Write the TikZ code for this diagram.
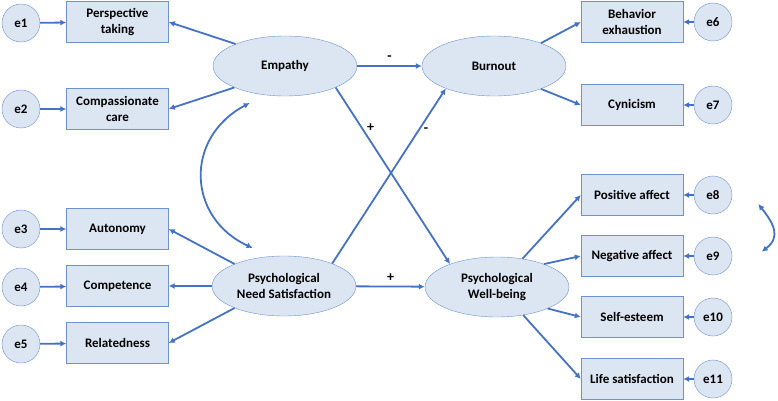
\documentclass[tikz,border=0pt]{standalone}
\usepackage{fontspec}
\setmainfont{Carlito}
\usetikzlibrary{shapes.geometric,arrows.meta}
\definecolor{semblue}{RGB}{68,114,196}
\definecolor{semline}{RGB}{110,145,208}
\definecolor{semfill}{RGB}{220,230,243}
\tikzset{
  obsbox/.style={draw=semline,fill=semfill,minimum width=102pt,minimum height=41pt,inner sep=1pt,align=center,font=\bfseries},
  latent/.style={ellipse,draw=semline,fill=semfill,minimum width=144pt,minimum height=60pt,inner sep=0pt,align=center,font=\bfseries},
  errc/.style={circle,draw=semline,fill=semfill,minimum size=38pt,inner sep=0pt,font=\bfseries},
  semarr/.style={draw=semblue,line width=1.8pt,-{Latex[length=6pt,width=6pt]}},
  semcov/.style={draw=semblue,line width=1.8pt,{Latex[length=6pt,width=6pt]}-{Latex[length=6pt,width=6pt]}},
  sign/.style={text=black,font=\fontsize{14}{16}\selectfont\bfseries}
}
\begin{document}
\begin{tikzpicture}[x=1pt,y=-1pt]
\useasboundingbox (0,0) rectangle (778,401);
\fontsize{13}{16}\selectfont

\node[errc] (e1) at (21,23) {e1};
\node[errc] (e2) at (21,109) {e2};
\node[errc] (e3) at (21,229) {e3};
\node[errc] (e4) at (21,287) {e4};
\node[errc] (e5) at (21,344) {e5};

\node[obsbox] (pt) at (117.5,22) {Perspective\\taking};
\node[obsbox] (cc) at (117.5,109) {Compassionate\\care};
\node[obsbox] (aut) at (117.5,229) {Autonomy};
\node[obsbox] (com) at (117.5,286) {Competence};
\node[obsbox] (rel) at (117.5,343) {Relatedness};

\node[latent] (emp) at (285,66) {Empathy};
\node[latent] (bur) at (494,66) {Burnout};
\node[latent] (pns) at (284,286) {Psychological\\Need Satisfaction};
\node[latent] (pwb) at (497,287) {Psychological\\Well-being};

\node[obsbox] (be) at (632,22) {Behavior\\exhaustion};
\node[obsbox] (cyn) at (632,105) {Cynicism};
\node[obsbox] (pa) at (632,195) {Positive affect};
\node[obsbox] (na) at (632,256) {Negative affect};
\node[obsbox] (se) at (632,317) {Self-esteem};
\node[obsbox] (ls) at (632,379) {Life satisfaction};

\node[errc] (e6) at (713,22) {e6};
\node[errc] (e7) at (713,105) {e7};
\node[errc] (e8) at (713,195) {e8};
\node[errc] (e9) at (713,256) {e9};
\node[errc] (e10) at (713,317) {e10};
\node[errc] (e11) at (713,379) {e11};

\draw[semarr] (e1) -- (pt);
\draw[semarr] (e2) -- (cc);
\draw[semarr] (e3) -- (aut);
\draw[semarr] (e4) -- (com);
\draw[semarr] (e5) -- (rel);
\draw[semarr] (e6) -- (be);
\draw[semarr] (e7) -- (cyn);
\draw[semarr] (e8) -- (pa);
\draw[semarr] (e9) -- (na);
\draw[semarr] (e10) -- (se);
\draw[semarr] (e11) -- (ls);

\draw[semarr] (emp.156) -- (pt.east);
\draw[semarr] (emp.203) -- (cc.east);
\draw[semarr] (pns.156) -- (aut.east);
\draw[semarr] (pns) -- (com);
\draw[semarr] (pns.204) -- (rel.east);
\draw[semarr] (bur.26) -- (be.west);
\draw[semarr] (bur.-26) -- (cyn.west);
\draw[semarr] (pwb.48) -- (pa.west);
\draw[semarr] (pwb.26) -- (na.west);
\draw[semarr] (pwb.-23) -- (se.west);
\draw[semarr] (pwb.-47) -- (ls.west);

\draw[semarr] (emp) -- node[sign,above] (s1) {-} (bur);
\draw[semarr] (emp.-23) -- node[sign,pos=0.23,right] (s2) {+} (pwb.154);
\draw[semarr] (pns.25) -- node[sign,pos=0.76,right] (s3) {-} (bur.205);
\draw[semarr] (pns) -- node[sign,above] (s4) {+} (pwb);

\draw[semcov,shorten <=17pt,shorten >=20pt] (emp.235) .. controls (183.8,138) and (187.2,217.9) .. (pns.114);
\path (e8) ++(45.3,9) coordinate (c8);
\path (e9) ++(48.7,-4.3) coordinate (c9);
\draw[semcov] (c8) .. controls (774,224) and (781,237) .. (c9);
\end{tikzpicture}
\end{document}
